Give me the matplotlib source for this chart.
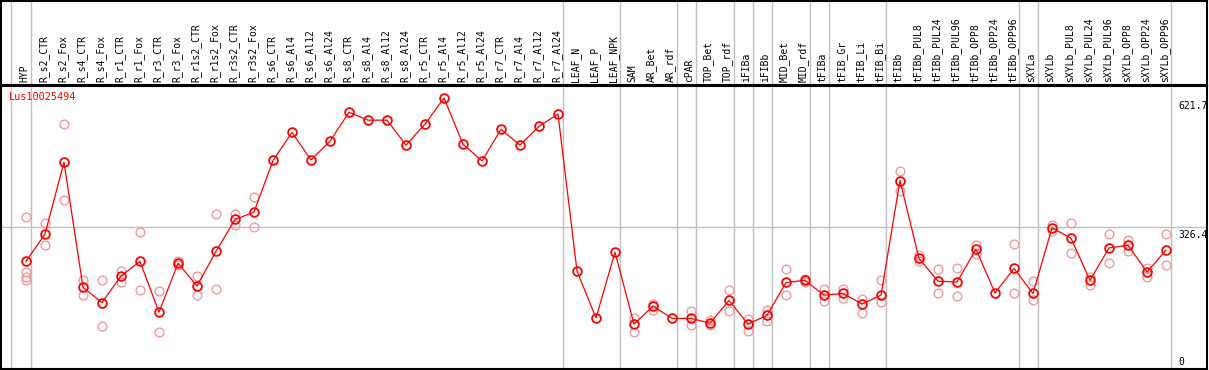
import matplotlib
matplotlib.use("Agg")
import matplotlib.pyplot as plt
import matplotlib.transforms as mtransforms

# categories along the x axis
samples = ["HYP", "R_s2_CTR", "R_s2_Fox", "R_s4_CTR", "R_s4_Fox", "R_r1_CTR", "R_r1_Fox",
           "R_r3_CTR", "R_r3_Fox", "R_r1s2_CTR", "R_r1s2_Fox", "R_r3s2_CTR", "R_r3s2_Fox",
           "R_s6_CTR", "R_s6_Al4", "R_s6_Al12", "R_s6_Al24", "R_s8_CTR", "R_s8_Al4",
           "R_s8_Al12", "R_s8_Al24", "R_r5_CTR", "R_r5_Al4", "R_r5_Al12", "R_r5_Al24",
           "R_r7_CTR", "R_r7_Al4", "R_r7_Al12", "R_r7_Al24", "LEAF_N", "LEAF_P", "LEAF_NPK",
           "SAM", "AR_Bet", "AR_rdf", "cPAR", "TOP_Bet", "TOP_rdf", "iFIBa", "iFIBb",
           "MID_Bet", "MID_rdf", "tFIBa", "tFIB_Gr", "tFIB_Li", "tFIB_Bi", "tFIBb",
           "tFIBb_PUL8", "tFIBb_PUL24", "tFIBb_PUL96", "tFIBb_OPP8", "tFIBb_OPP24",
           "tFIBb_OPP96", "sXYLa", "sXYLb", "sXYLb_PUL8", "sXYLb_PUL24", "sXYLb_PUL96",
           "sXYLb_OPP8", "sXYLb_OPP24", "sXYLb_OPP96"]

# mean expression per sample
means = [248, 311, 475, 189, 154, 215, 248, 132, 244, 192, 271, 344, 361, 479, 543,
         480, 523, 589, 571, 571, 514, 562, 621.7, 516, 478, 550, 514, 557, 585,
         226, 119, 269, 105, 146, 118, 118, 107, 159, 105, 125, 200, 205, 171, 175,
         151, 171, 433,
         255, 203, 201, 276, 176, 232, 175, 325, 301, 205, 279, 285, 224, 274]

# replicate values per sample
replicates = [[350, 225, 212, 206], [335, 286], [562, 389], [206, 171], [206, 101],
              [226, 202], [315, 183], [181, 86], [248, 240], [215, 171], [356, 184],
              [356, 331], [395, 326],
              [], [], [], [], [], [], [], [], [], [], [], [], [], [], [], [], [], [], [],
              [118, 86], [152, 137], [], [135, 102], [114, 102], [182, 135], [117, 90],
              [138, 113], [230, 171], [208, 202], [184, 158], [184, 165], [162, 131],
              [205, 155], [454, 410], [263, 248], [230, 176], [232, 169], [286, 265],
              [], [288, 175], [204, 160], [331, 318], [337, 267], [213, 195], [311, 244],
              [297, 273], [234, 212], [310, 240]]

# last sample of each group (separator lines)
group_ends = [0, 28, 31, 34, 35, 37, 38, 39, 41, 42, 45, 52, 53, 60]

gene = "Lus10025494"
y_ticks = [621.7, 326.4]

W, H = 1209, 370
fig = plt.figure(figsize=(W / 100, H / 100), dpi=100)
fig.patch.set_facecolor("white")

xlim = ((1 - 26) / 19, (1207 - 26) / 19)
ax = fig.add_axes([1 / W, 1 / H, 1206 / W, 283 / H])
hx = fig.add_axes([1 / W, 285 / H, 1206 / W, 84 / H])

mono = "DejaVu Sans Mono"
grid_c = "#c0c0c0"
xs = list(range(len(samples)))
seps = [-0.8] + [g + 0.25 for g in group_ends]

for a in (ax, hx):
    a.set_xlim(*xlim)
    a.set_xticks([])
    a.set_yticks([])
    for s in a.spines.values():
        s.set_color("black")
        s.set_linewidth(1.5)
    for sx in seps:
        a.axvline(sx, color=grid_c, lw=1.0, zorder=0)

ax.set_ylim(2.3, 649.1)
ax.axhline(y_ticks[1], color=grid_c, lw=1.0, zorder=0)

# replicate points
for i, reps in enumerate(replicates):
    if reps:
        ax.plot([i] * len(reps), reps, linestyle="none", marker="o", ms=6.3,
                mfc="none", mec="#f09a9a", mew=1.0, zorder=2)

# mean line
ax.plot(xs, means, color="red", lw=0.9, marker="o", ms=6.3, mfc="none",
        mec="red", mew=1.3, zorder=3)

ax.text(0.0065, 0.978, gene, transform=ax.transAxes, color="red", fontsize=7.4,
        family=mono, ha="left", va="top")

trans = mtransforms.blended_transform_factory(ax.transData, ax.transData)
lx = (1178 - 26) / 19
for v in y_ticks:
    ax.text(lx, v - 7, f"{v}", transform=trans, fontsize=7, family=mono,
            ha="left", va="top")
ax.text(lx, 6, "0", fontsize=7, family=mono, ha="left", va="bottom")

hlab = mtransforms.blended_transform_factory(hx.transData, hx.transAxes)
for i, name in enumerate(samples):
    hx.text(i - 0.08, 0.035, name, transform=hlab, rotation=90, fontsize=7,
            family=mono, ha="center", va="bottom")

fig.savefig("out.png", dpi=100, facecolor="white")
